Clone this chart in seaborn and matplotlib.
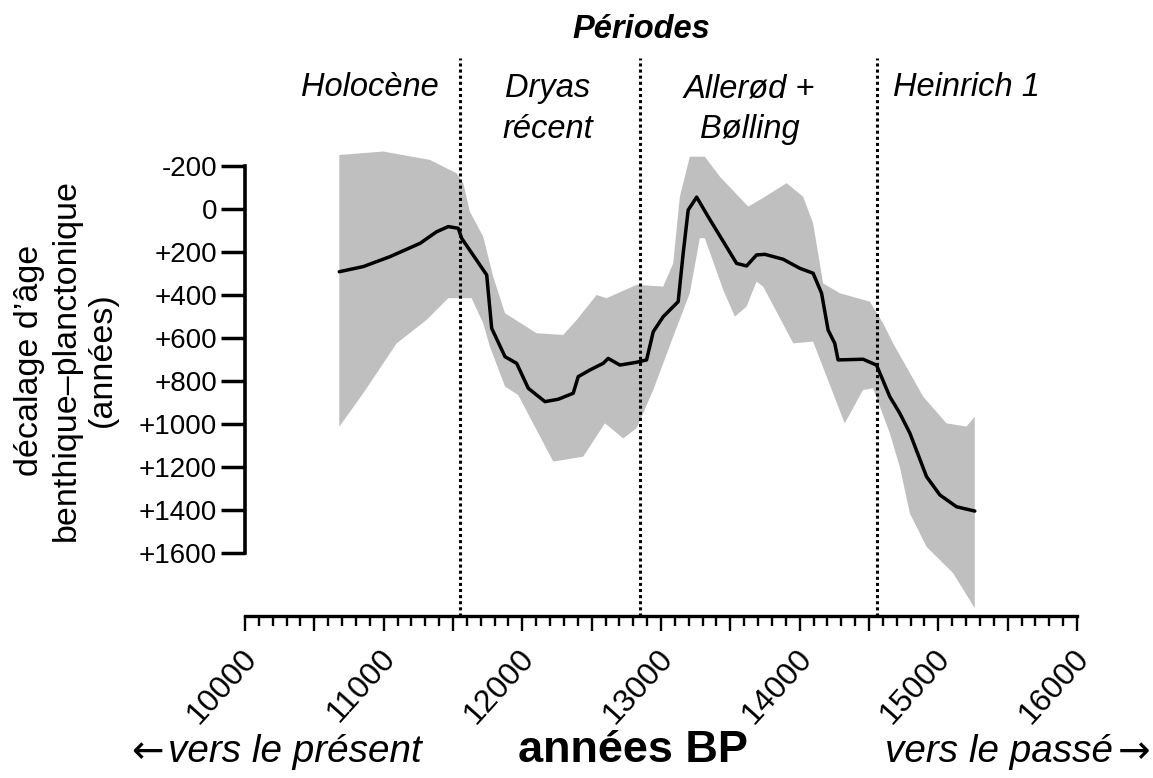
import numpy as np
import pandas as pd
import matplotlib
matplotlib.use("Agg")
import matplotlib.pyplot as plt
import matplotlib.transforms as mtransforms
import seaborn as sns
from matplotlib.ticker import MultipleLocator

# ---------------- data ----------------
line_age = [10680, 10853, 11045, 11262, 11382, 11466, 11538, 11562, 11743, 11779,
            11875, 11959, 12043, 12163, 12259, 12367, 12403, 12487, 12583, 12619,
            12704, 12824, 12896, 12944, 13016, 13124, 13160, 13196, 13257, 13340,
            13545, 13617, 13689, 13749, 13881, 14001, 14097, 14158, 14205, 14253,
            14277, 14457, 14554, 14650, 14722, 14795, 14915, 15011, 15131, 15263]
line_offset = [292, 268, 222, 160, 106, 82, 90, 136, 307, 555,
               687, 718, 834, 896, 885, 857, 780, 749, 718, 695,
               726, 713, 702, 571, 501, 431, 206, 5, -55, 36,
               253, 265, 214, 211, 234, 276, 299, 392, 563, 625,
               702, 699, 726, 873, 950, 1043, 1245, 1330, 1385, 1405]

upper_age = [10680, 10997, 11334, 11526, 11574, 11622, 11718, 11790, 11875, 12103,
             12295, 12392, 12536, 12608, 12824, 13016, 13088, 13136, 13208, 13316,
             13425, 13629, 13713, 13906, 14025, 14097, 14169, 14290, 14506, 14602,
             14674, 14891, 15059, 15203, 15263]
upper_offset = [-251, -267, -228, -166, -120, 13, 129, 315, 485, 578,
                586, 516, 400, 415, 353, 361, 253, -57, -243, -243,
                -150, -11, -42, -120, -57, 67, 346, 392, 431, 532,
                625, 873, 997, 1012, 966]

lower_age = [10680, 10853, 11094, 11310, 11466, 11634, 11718, 11766, 11875, 11970,
             12103, 12223, 12439, 12596, 12727, 12824, 12944, 13088, 13208, 13280,
             13316, 13449, 13533, 13617, 13689, 13737, 13954, 14097, 14325, 14457,
             14530, 14650, 14722, 14795, 14915, 15107, 15263]
lower_offset = [1013, 857, 625, 516, 415, 415, 532, 640, 826, 865,
                1028, 1175, 1152, 997, 1067, 1020, 842, 594, 392, 136,
                136, 377, 501, 454, 338, 361, 625, 617, 997, 842,
                834, 1043, 1199, 1416, 1571, 1694, 1857]

period_bounds = [11550, 12850, 14560]
period_labels = ["Holocène", "Dryas\nrécent", "Allerød +\nBølling", "Heinrich 1"]
period_centers = [10900, 12185, 13640, 15200]
period_lines = [1, 2, 2, 1]

y_ticks = [-200, 0, 200, 400, 600, 800, 1000, 1200, 1400, 1600]
y_tick_labels = ["-200", "0", "+200", "+400", "+600", "+800", "+1000",
                 "+1200", "+1400", "+1600"]
x_ticks = [10000, 10500, 11000, 11500, 12000, 12500, 13000, 13500, 14000,
           14500, 15000, 15500, 16000]
x_tick_labels = ["10000", "", "11000", "", "12000", "", "13000", "", "14000",
                 "", "15000", "", "16000"]

# ---------------- style ----------------
sns.set_theme(style="white")
plt.rcParams["font.family"] = ["Liberation Sans", "DejaVu Sans"]
for k in ["text.color", "axes.labelcolor", "xtick.color", "ytick.color",
          "axes.edgecolor"]:
    plt.rcParams[k] = "black"

W, H = 1153, 778
fig = plt.figure(figsize=(W / 100, H / 100), dpi=100)
ax = fig.add_axes([245 / W, 1 - 616 / H, (1077 - 245) / W, (616 - 58) / H])

# band
band_x = list(upper_age) + list(lower_age[::-1])
band_y = list(upper_offset) + list(lower_offset[::-1])
ax.fill(band_x, band_y, color="#bfbfbf", lw=0, zorder=1)

# mean line
df = pd.DataFrame({"age": line_age, "offset": line_offset})
sns.lineplot(data=df, x="age", y="offset", ax=ax, color="black", lw=2.5,
             sort=False, zorder=3)

for b in period_bounds:
    ax.axvline(b, color="black", ls=(0, (1, 1.0)), lw=2.2, zorder=4)

ax.set_xlim(10000, 16000)
ax.set_ylim(1893, -702)

# period labels
for lab, xc, nl in zip(period_labels, period_centers, period_lines):
    yc = -563 if nl == 1 else -465
    ax.text(xc, yc, lab, ha="center", va="center", fontsize=23.5,
            style="italic", linespacing=1.38, zorder=5)

# spines
for s in ["top", "right"]:
    ax.spines[s].set_visible(False)
ax.spines["left"].set_bounds(-200, 1600)
ax.spines["left"].set_linewidth(2.6)
ax.spines["bottom"].set_linewidth(2.4)

ax.set_yticks(y_ticks, y_tick_labels)
ax.set_xticks(x_ticks, x_tick_labels)
ax.xaxis.set_minor_locator(MultipleLocator(100))
ax.tick_params(axis="y", which="major", direction="out", length=17, width=2.5,
               labelsize=20, pad=3, left=True)
ax.tick_params(axis="x", which="major", direction="out", length=11, width=1.7,
               labelsize=23, pad=9, bottom=True)
ax.tick_params(axis="x", which="minor", direction="out", length=7.5, width=1.7,
               bottom=True)
offset = mtransforms.ScaledTranslation(-4 / 100, 0, fig.dpi_scale_trans)
for lbl in ax.get_xticklabels():
    lbl.set_rotation(48)
    lbl.set_ha("right")
    lbl.set_va("top")
    lbl.set_rotation_mode("anchor")
    lbl.set_transform(lbl.get_transform() + offset)
ax.set_xlabel("")
ax.set_ylabel("")
ax.grid(False)

# figure texts
fig.text(641 / W, 1 - 30 / H, "Périodes", ha="center", va="center",
         fontsize=23.5, fontweight="bold", style="italic")
fig.text(66 / W, 1 - 360 / H, "décalage d’âge\nbenthique–planctonique\n(années)",
         rotation=90, ha="center", va="center", fontsize=24.5, linespacing=1.22,
         multialignment="center")
fig.text(131 / W, 1 - 752 / H, "←", ha="left", va="center",
         fontsize=28, family="DejaVu Sans")
fig.text(168 / W, 1 - 752 / H, "vers le présent", ha="left", va="center",
         fontsize=27.8, style="italic")
fig.text(633 / W, 1 - 750 / H, "années BP", ha="center", va="center",
         fontsize=32.5, fontweight="bold")
fig.text(1113 / W, 1 - 752 / H, "vers le passé", ha="right", va="center",
         fontsize=27.8, style="italic")
fig.text(1150 / W, 1 - 752 / H, "→", ha="right", va="center",
         fontsize=28, family="DejaVu Sans")

fig.savefig("out.png", dpi=100, facecolor="white")
